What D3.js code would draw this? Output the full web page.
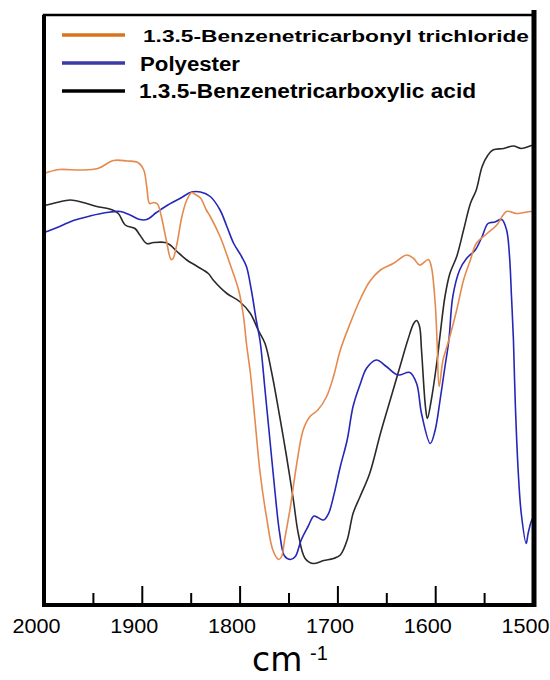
<!DOCTYPE html>
<html>
<head>
<meta charset="utf-8">
<script src="https://cdn.jsdelivr.net/npm/d3@7/dist/d3.min.js"></script>
<style>
  html, body { margin: 0; padding: 0; background: #fff; overflow: hidden; }
  svg { display: block; }
  text { font-family: "Liberation Sans", Arial, Helvetica, sans-serif; }
</style>
</head>
<body>
<svg id="chart" width="550" height="680"></svg>
<script>
// ---- data ----
const seriesNames = ["1.3.5-Benzenetricarbonyl trichloride", "Polyester", "1.3.5-Benzenetricarboxylic acid"];
const seriesColors = ["#E58A4E", "#2626B8", "#2a2a2a"];
const legendColors = ["#D9731F", "#3B3BA8", "#000000"];

const xTicks = [2000, 1900, 1800, 1700, 1600, 1500];
const xMinorTicks = [1950, 1850, 1750, 1650, 1550];
const xLabel = "cm";
const xLabelSup = "-1";

// 1.3.5-Benzenetricarbonyl trichloride
const chlorideWn = [2000,1997,1984,1963,1945,1929,1915,1904,1898,1895,1892,1888,1884,1880,1875,1870,1868,1864,1859,1854,1849,1846,1840,1834,1830,1820,1810,1801,1796,1793,1789,1784,1779,1772,1766,1760,1757,1754,1748,1742,1735,1728,1720,1711,1704,1697,1687,1677,1667,1656,1643,1629,1622,1616,1607,1604,1600,1598,1596,1592,1586,1578,1571,1564,1558,1547,1537,1527,1517,1503,1500];
const chlorideT  = [86.3,86.5,87.1,87.0,87.3,88.9,88.8,88.5,87.0,83.7,80.3,80.5,80.2,77.7,73.0,69.1,69.3,72.3,77.7,81.0,82.5,82.2,81.4,79.0,77.7,73.7,68.3,63.0,57.7,52.3,46.4,36.4,26.4,17.0,11.0,9.1,9.7,13.0,19.7,27.7,35.0,37.7,39.0,41.7,45.7,51.0,56.3,61.0,64.7,67.0,68.3,70.0,69.3,68.0,69.1,67.7,60.3,52.3,43.7,49.0,53.0,59.0,65.0,69.0,72.3,74.3,76.0,78.7,78.3,78.7,78.7];

// Polyester
const polyWn = [2000,1997,1984,1970,1953,1936,1922,1912,1902,1895,1885,1875,1861,1849,1840,1830,1820,1813,1806,1798,1793,1788,1783,1779,1774,1769,1764,1759,1754,1748,1743,1737,1730,1724,1720,1714,1709,1704,1697,1690,1684,1677,1670,1660,1650,1638,1626,1619,1614,1605,1600,1595,1590,1586,1582,1575,1568,1559,1552,1546,1539,1532,1527,1524,1522,1520,1518,1515,1512,1507,1505,1502,1500];
const polyT  = [74.5,74.7,75.7,76.9,77.8,78.5,78.7,78.0,77.1,77.1,78.5,79.8,81.3,82.6,82.6,81.7,79.0,75.7,72.3,69.7,67.7,63.0,57.0,52.7,43.0,33.0,23.0,14.3,9.8,9.1,9.7,13.0,15.7,17.8,17.5,17.0,18.3,21.7,27.7,33.0,39.7,44.0,47.4,49.0,47.7,46.0,46.5,44.3,38.3,32.3,35.0,41.0,47.7,53.0,61.7,67.0,69.3,71.0,73.7,76.3,76.6,77.1,75.0,69.7,61.7,53.0,39.7,26.3,18.3,12.3,14.3,16.6,17.5];

// 1.3.5-Benzenetricarboxylic acid
const acidWn = [2000,1997,1987,1973,1960,1946,1933,1924,1917,1907,1902,1895,1888,1876,1871,1864,1854,1844,1832,1827,1813,1800,1789,1781,1774,1767,1759,1752,1745,1740,1733,1725,1714,1704,1697,1690,1684,1677,1667,1656,1646,1636,1628,1622,1619,1616,1614,1610,1608,1604,1598,1595,1590,1585,1578,1571,1564,1558,1552,1546,1541,1530,1520,1512,1503,1500];
const acidT  = [80.0,80.0,80.5,81.0,80.5,79.7,79.2,78.3,76.0,75.3,74.0,72.3,72.5,72.5,72.0,70.7,69.0,67.8,66.3,65.0,62.3,60.7,58.3,55.0,52.3,46.3,37.7,29.7,21.0,14.3,9.3,8.3,8.9,9.3,10.0,13.0,18.3,21.6,26.3,34.3,41.0,47.7,53.0,56.3,56.9,55.7,51.0,39.7,37.3,41.0,49.0,54.0,61.7,66.3,69.7,75.0,80.3,83.0,87.7,90.0,91.0,91.3,91.8,91.3,91.8,92.0];

// ---- chart ----
const svg = d3.select("#chart");
const pLeft = 44, pRight = 533, pTop = 15, pBottom = 605;

const x = d3.scaleLinear().domain([2000, 1500]).range([pLeft, pRight]);
const y = d3.scaleLinear().domain([0, 118]).range([pBottom, pTop]);

const series = [
  chlorideWn.map((w, i) => [w, chlorideT[i]]),
  polyWn.map((w, i) => [w, polyT[i]]),
  acidWn.map((w, i) => [w, acidT[i]])
];

svg.append("defs").append("clipPath").attr("id", "clip")
  .append("rect").attr("x", pLeft).attr("y", pTop).attr("width", pRight - pLeft).attr("height", pBottom - pTop);

const line = d3.line()
  .x(d => x(d[0]))
  .y(d => y(d[1]))
  .curve(d3.curveCatmullRom.alpha(0.5));

const g = svg.append("g").attr("clip-path", "url(#clip)");
[2, 1, 0].forEach(i => {
  g.append("path")
    .datum(series[i])
    .attr("fill", "none")
    .attr("stroke", seriesColors[i])
    .attr("stroke-width", 1.6)
    .attr("stroke-linejoin", "round")
    .attr("d", line);
});

// minor ticks
const minorAxis = d3.axisBottom(x).tickValues(xMinorTicks).tickSize(-12).tickFormat("");
const gm = svg.append("g").attr("transform", `translate(0,${pBottom})`).call(minorAxis);
gm.select(".domain").remove();
gm.selectAll(".tick line").attr("stroke", "#000").attr("stroke-width", 2);

// major ticks + labels
const majorAxis = d3.axisBottom(x).tickValues(xTicks).tickSize(-19).tickPadding(14).tickFormat(d3.format("d"));
const ga = svg.append("g").attr("transform", `translate(0,${pBottom})`).call(majorAxis);
ga.select(".domain").remove();
ga.selectAll(".tick line").attr("stroke", "#000").attr("stroke-width", 2);
ga.selectAll(".tick text")
  .attr("font-size", 20)
  .attr("fill", "#000")
  .attr("dx", "-8")
  .attr("textLength", 48)
  .attr("lengthAdjust", "spacingAndGlyphs")
  .style("font-family", "'Liberation Sans', Arial, sans-serif");

// frame
const frame = svg.append("g");
frame.append("path")
  .attr("d", `M${pLeft},${pBottom}V${pTop}H${pRight + 1}V${pBottom}Z`)
  .attr("fill", "none").attr("stroke", "#000").attr("stroke-width", 2.5);
frame.append("line")
  .attr("x1", pLeft).attr("x2", pLeft).attr("y1", pTop).attr("y2", pBottom + 2)
  .attr("stroke", "#000").attr("stroke-width", 4);
frame.append("line")
  .attr("x1", pRight + 1).attr("x2", pRight + 1).attr("y1", pTop - 5).attr("y2", pBottom + 2)
  .attr("stroke", "#000").attr("stroke-width", 5);
frame.append("line")
  .attr("x1", pLeft - 2).attr("x2", pRight + 3).attr("y1", pBottom).attr("y2", pBottom)
  .attr("stroke", "#000").attr("stroke-width", 4);

// x axis title
svg.append("text")
  .attr("x", 252).attr("y", 671)
  .attr("font-size", 33).attr("fill", "#000")
  .style("font-family", "'DejaVu Sans', sans-serif")
  .text(xLabel);
svg.append("text")
  .attr("x", 310).attr("y", 660)
  .attr("font-size", 20).attr("fill", "#000")
  .text(xLabelSup);

// legend
const legendY = [35, 63, 91];
const legendTextX = [143, 140, 139];
const legendTextY = [42, 71, 98];
const legendFont = [17, 20, 20];
const legendLen = [386, 100, 337];
seriesNames.forEach((name, i) => {
  svg.append("line")
    .attr("x1", 62).attr("x2", 125)
    .attr("y1", legendY[i]).attr("y2", legendY[i])
    .attr("stroke", legendColors[i]).attr("stroke-width", 3.5);
  svg.append("text")
    .attr("x", legendTextX[i]).attr("y", legendTextY[i])
    .attr("font-size", legendFont[i])
    .attr("font-weight", "bold")
    .attr("fill", "#000")
    .attr("textLength", legendLen[i])
    .attr("lengthAdjust", "spacingAndGlyphs")
    .text(name);
});
</script>
</body>
</html>
